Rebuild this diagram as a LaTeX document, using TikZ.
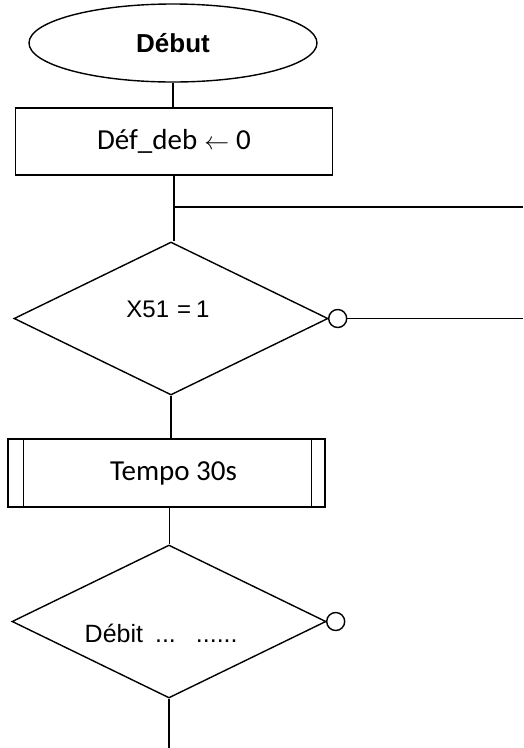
\documentclass[tikz,border=0pt]{standalone}
\usepackage{fontspec}
\setmainfont{Liberation Sans}
\newfontfamily\calfont{Carlito}
\usetikzlibrary{shapes.geometric}
\begin{document}
\begin{tikzpicture}[x=1pt,y=1pt,
  every path/.style={line width=1.4pt},
  startbox/.style={draw, ellipse, minimum width=288pt, minimum height=78pt, inner sep=0pt, font=\fontsize{26}{28}\selectfont\bfseries},
  actbox/.style={draw, rectangle, minimum width=317pt, minimum height=67pt, inner sep=0pt, font=\calfont\fontsize{29}{32}\selectfont},
  testbox/.style={draw, diamond, minimum width=314pt, minimum height=153pt, inner sep=0pt},
  dot/.style={draw, circle, minimum size=18pt, inner sep=0pt},
  lbl/.style={inner sep=0pt, anchor=base}]
\useasboundingbox (0,0) rectangle (523,-748);
\node[startbox] (e) at (173,-43) {Début};
\node[actbox] (r1) at (174,-141.5) {Déf\_deb\hspace{7pt}{\fontsize{24}{26}\selectfont$\leftarrow$}\hspace{7pt}0};
\node[testbox] (d1) at (171,-318.5) {};
\node[lbl, font=\fontsize{24}{26}\selectfont] (t1) at (168,-317) {X51\hspace{8pt}=\hspace{5pt}1};
\node[dot] (c1) at ([xshift=9pt]d1.east) {};
\node[actbox] (tp) at (166.5,-473) [minimum height=68pt] {\hspace*{14pt}Tempo 30s};
\draw ([xshift=16pt]tp.north west) -- ([xshift=16pt]tp.south west);
\draw ([xshift=-14pt]tp.north east) -- ([xshift=-14pt]tp.south east);
\node[testbox] (d2) at (169,-621.5) {};
\node[lbl, font=\fontsize{25}{28}\selectfont, anchor=base west] (t2) at (84,-642) {Débit\hspace{12pt}...\hspace{20pt}......};
\node[dot] (c2) at ([xshift=9pt]d2.east) {};
\coordinate (j) at (173,-207);
\coordinate (jr) at (523,-207);
\coordinate (c1r) at (523,-318.5);
\coordinate (endp) at (d2.south |- 0,-748);
\draw (e.south) -- (e.south |- r1.north);
\draw (r1.south) -- (r1.south |- d1.north);
\draw (j) -- (jr);
\draw (c1.east) -- (c1r);
\draw (d1.south) -- (d1.south |- tp.north);
\draw ([xshift=3pt]tp.south) -- ([xshift=3pt]tp.south |- d2.north);
\draw (d2.south) -- (endp);
\end{tikzpicture}
\end{document}
